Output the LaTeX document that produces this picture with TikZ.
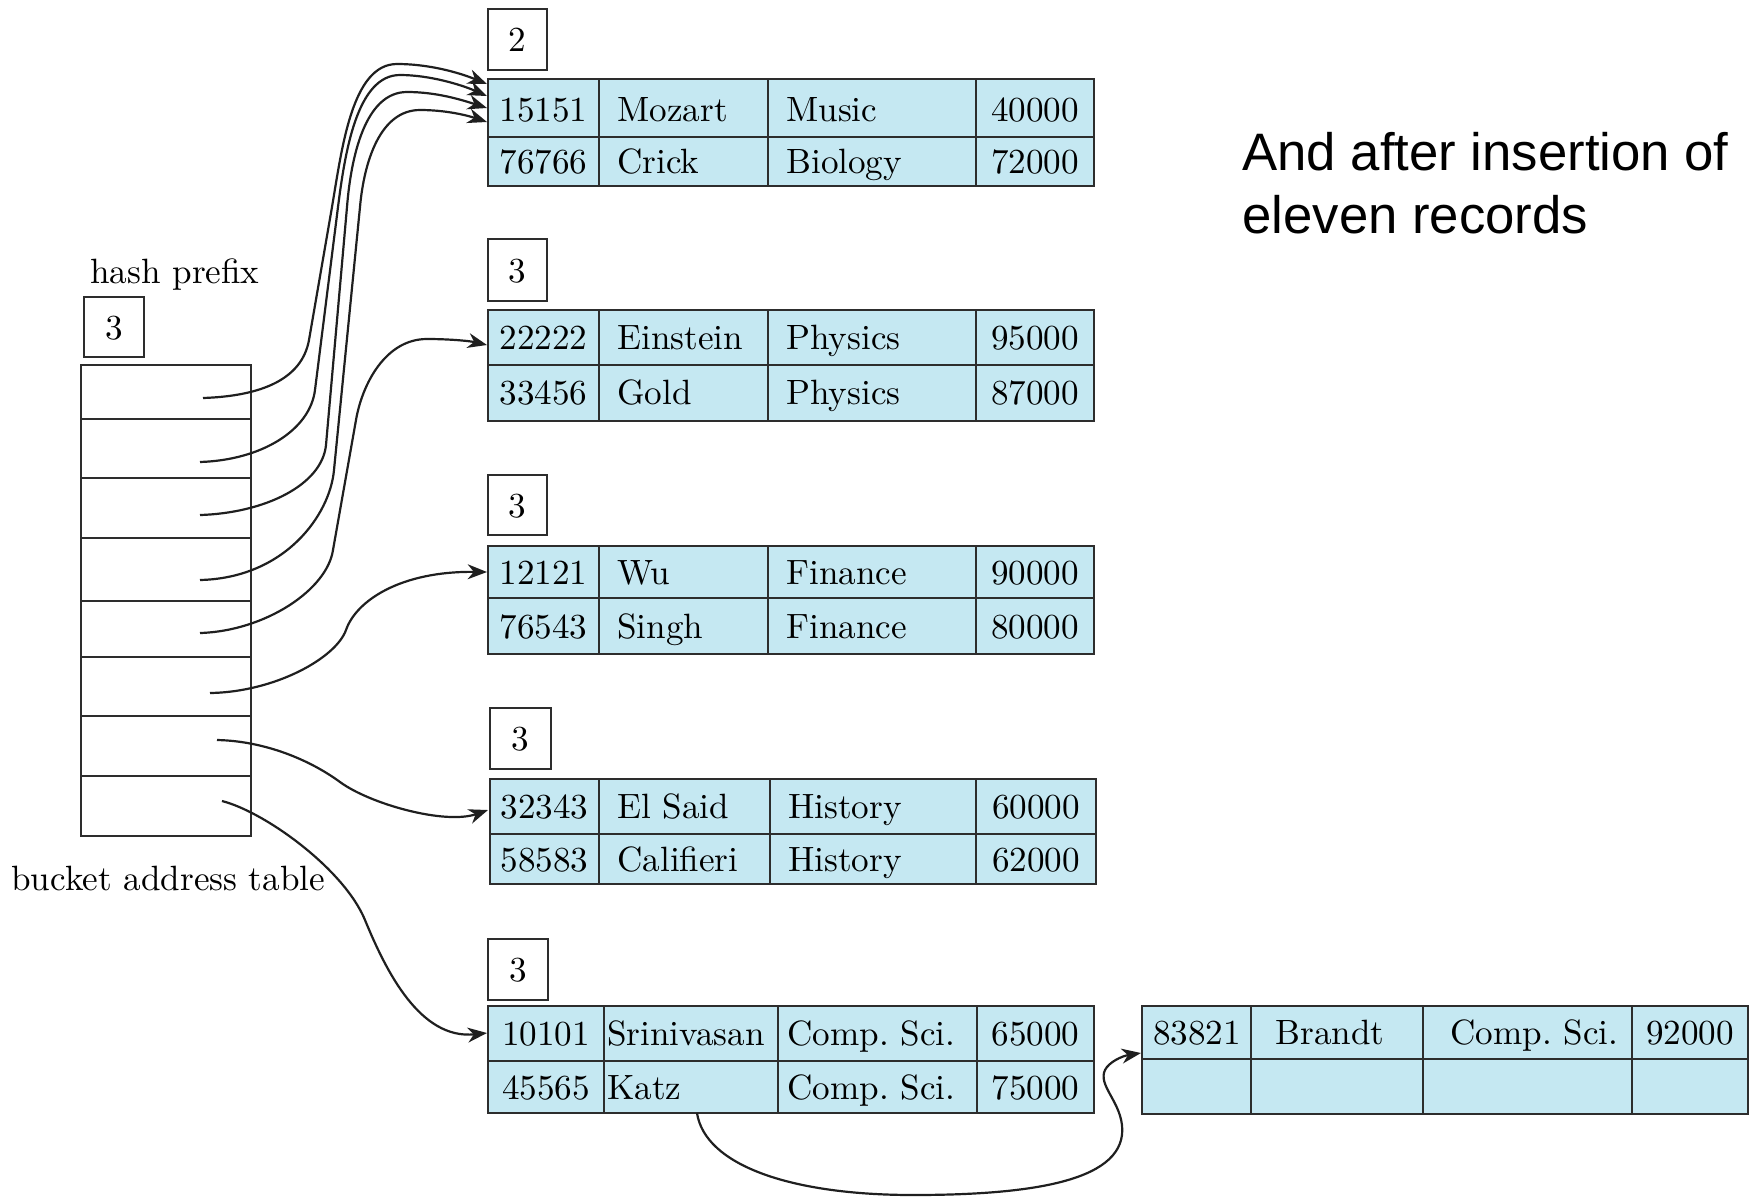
\documentclass[tikz,border=0pt]{standalone}
\usepackage{fontspec}
\setmainfont{lmroman10-regular.otf}
\newfontfamily\notefont{Liberation Sans}
\usetikzlibrary{arrows.meta}
\definecolor{cellblue}{RGB}{197,232,242}
\definecolor{linegray}{RGB}{45,45,45}
\newcommand\drawbucket[8]{%
  \draw[tbl] (#1,#2) rectangle (#3,#4);
  \draw[sep] (#1,#5) -- (#3,#5) (#6,#2) -- (#6,#4) (#7,#2) -- (#7,#4) (#8,#2) -- (#8,#4);}
\newcommand\rowtext[9]{%
  \node[ctxt] at (#2,#1) {#3};
  \node[txt] at (#4,#1) {#5};
  \node[txt] at (#6,#1) {#7};
  \node[ctxt] at (#8,#1) {#9};}
\begin{document}
\begin{tikzpicture}[x=0.02cm,y=-0.02cm,
  tbl/.style={draw=linegray, line width=1.3pt, fill=cellblue},
  box/.style={draw=linegray, line width=1.3pt, fill=white},
  sep/.style={draw=linegray, line width=1.3pt},
  txt/.style={font=\fontsize{20}{24}\selectfont, inner sep=0pt, anchor=base west},
  ctxt/.style={font=\fontsize{20}{24}\selectfont, inner sep=0pt, anchor=base},
  note/.style={font=\notefont\fontsize{30}{36}\selectfont, inner sep=0pt, anchor=base west},
  ptr/.style={draw=black!88, line width=1.25pt, -{Stealth[length=11pt,width=8.5pt,inset=3.5pt]}}]
\useasboundingbox (0,0) rectangle (1755,1198);

% ---------- bucket address table ----------
\node[txt] (hp) at (90,283) {hash prefix};
\draw[box] (84,297) rectangle (144,357);
\node[ctxt] (gd) at (114,339) {3};
\draw[box] (81,365) rectangle (251,836);
\foreach \y in {419,478,538,601,657,716,776} \draw[sep] (81,\y) -- (251,\y);
\node[txt] (bat) at (11,890) {bucket address table};

\coordinate (s1) at (203,398);
\coordinate (s2) at (200,462);
\coordinate (s3) at (200,515);
\coordinate (s4) at (200,580);
\coordinate (s5) at (200,633);
\coordinate (s6) at (210,693);
\coordinate (s7) at (217,740);
\coordinate (s8) at (222,801);

% ---------- bucket 1 ----------
\draw[box] (488,9) rectangle (547,70);
\node[ctxt] (d1) at (517.5,51.5) {2};
\drawbucket{488}{79}{1094}{186}{137}{599}{768}{976}
\rowtext{121}{543.5}{15151}{617}{Mozart}{786}{Music}{1035}{40000}
\rowtext{173}{543.5}{76766}{617}{Crick}{786}{Biology}{1035}{72000}
\coordinate (t1a) at (487,84);
\coordinate (t1b) at (487,96);
\coordinate (t1c) at (487,108);
\coordinate (t1d) at (487,122);

% ---------- bucket 2 ----------
\draw[box] (488,239) rectangle (547,301);
\node[ctxt] (d2) at (517.5,282) {3};
\drawbucket{488}{310}{1094}{421}{365}{599}{768}{976}
\rowtext{349}{543.5}{22222}{617}{Einstein}{786}{Physics}{1035}{95000}
\rowtext{404}{543.5}{33456}{617}{Gold}{786}{Physics}{1035}{87000}
\coordinate (t2) at (487,345);

% ---------- bucket 3 ----------
\draw[box] (488,475) rectangle (547,535);
\node[ctxt] (d3) at (517.5,517) {3};
\drawbucket{488}{546}{1094}{654}{598}{599}{768}{976}
\rowtext{584}{543.5}{12121}{617}{Wu}{786}{Finance}{1035}{90000}
\rowtext{638}{543.5}{76543}{617}{Singh}{786}{Finance}{1035}{80000}
\coordinate (t3) at (487,572);

% ---------- bucket 4 ----------
\draw[box] (490,708) rectangle (551,769);
\node[ctxt] (d4) at (520.5,750.5) {3};
\drawbucket{490}{779}{1096}{884}{834}{599}{770}{976}
\rowtext{818}{544.5}{32343}{617}{El Said}{788}{History}{1036}{60000}
\rowtext{871}{544.5}{58583}{617}{Califieri}{788}{History}{1036}{62000}
\coordinate (t4) at (488,810);

% ---------- bucket 5 ----------
\draw[box] (488,939) rectangle (548,1000);
\node[ctxt] (d5) at (518,981.5) {3};
\drawbucket{488}{1006}{1094}{1113}{1061}{604}{778}{977}
\rowtext{1045}{546}{10101}{607}{Srinivasan}{787}{Comp.\ Sci.}{1035.5}{65000}
\rowtext{1099}{546}{45565}{607}{Katz}{787}{Comp.\ Sci.}{1035.5}{75000}
\coordinate (t5) at (487,1033);
\coordinate (k5) at (697,1113);

% ---------- overflow bucket ----------
\drawbucket{1142}{1006}{1748}{1114}{1059}{1251}{1423}{1632}
\rowtext{1044}{1197}{83821}{1275}{Brandt}{1450}{Comp.\ Sci.}{1690}{92000}
\coordinate (to) at (1141,1053);

% ---------- note ----------
\node[note] (n1) at (1242,170) {And after insertion of};
\node[note] (n2) at (1242,233) {eleven records};

% ---------- pointers ----------
\draw[ptr] (s1) .. controls (262,396) and (302,379) .. (309,340) -- (332,207)
  .. controls (342,148) and (352,64) .. (397,64) .. controls (430,64) and (460,73) .. (t1a);
\draw[ptr] (s2) .. controls (262,460) and (310,430) .. (315,390) -- (338,207)
  .. controls (345,152) and (357,75) .. (400,75) .. controls (430,75) and (462,85) .. (t1b);
\draw[ptr] (s3) .. controls (265,513) and (322,485) .. (326,445) -- (347,207)
  .. controls (351,157) and (365,92) .. (407,92) .. controls (437,92) and (462,100) .. (t1c);
\draw[ptr] (s4) .. controls (285,578) and (330,515) .. (334,470) -- (360,207)
  .. controls (364,162) and (380,110) .. (420,110) .. controls (445,110) and (466,115) .. (t1d);
\draw[ptr] (s5) .. controls (265,631) and (327,590) .. (333,550) -- (356,420)
  .. controls (362,385) and (385,339) .. (427,339) .. controls (450,339) and (470,341) .. (t2);
\draw[ptr] (s6) .. controls (275,692) and (336,658) .. (346,630)
  .. controls (356,601) and (400,571) .. (t3);
\draw[ptr] (s7) .. controls (265,741) and (310,760) .. (340,782)
  .. controls (370,804) and (445,825) .. (t4);
\draw[ptr] (s8) .. controls (265,812) and (344,869) .. (365,920)
  .. controls (386,971) and (420,1040) .. (t5);
\draw[ptr] (k5) .. controls (705,1165) and (790,1195) .. (913,1195)
  .. controls (1036,1195) and (1128,1180) .. (1122,1125)
  .. controls (1119,1100) and (1098,1085) .. (1105,1070)
  .. controls (1109,1062) and (1122,1056) .. (to);
\end{tikzpicture}
\end{document}
